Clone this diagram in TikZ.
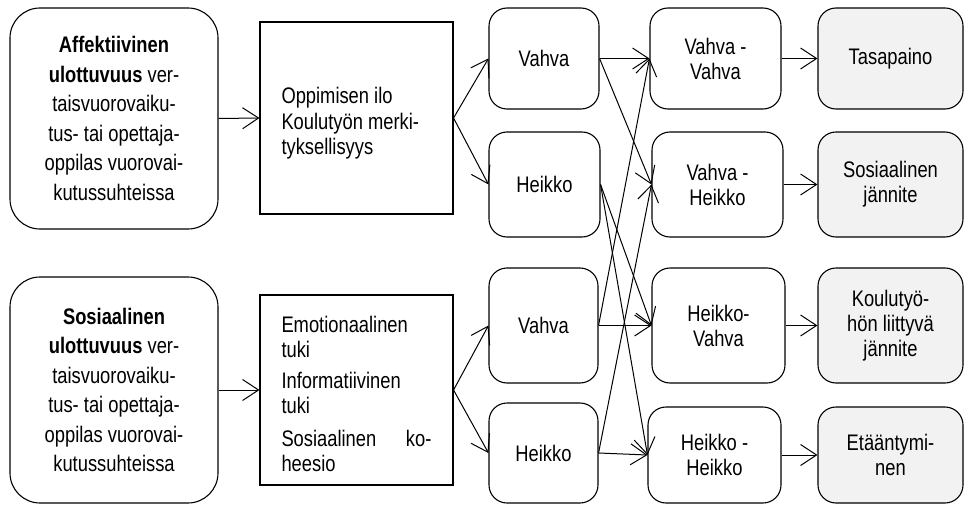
\documentclass[tikz,border=0pt]{standalone}
\usepackage{fontspec}
\setmainfont[FakeStretch=0.815]{Liberation Sans}
\usetikzlibrary{arrows.meta}

% a left-aligned text block, moved down by #1 without changing its size
\newcommand{\shiftedlist}[3]{%
  \raisebox{-#1}[\height][\depth]{\parbox{#2}{\raggedright #3}}}

\begin{document}
\begin{tikzpicture}[x=1pt,y=-1pt,
  base/.style={draw, line width=1.1pt, inner sep=0pt,
    font=\fontsize{22.5}{25}\selectfont},
  dimbox/.style={base, rounded corners=30pt, align=flush center,
    font=\fontsize{22.5}{29.5}\selectfont},
  listbox/.style={base, minimum width=193pt},
  levelbox/.style={base, rounded corners=18pt, align=flush center},
  outbox/.style={levelbox, fill=gray!10},
  arr/.style={line width=1pt, -{Straight Barb[length=16pt,width=21pt,line width=1pt]}}
]
\useasboundingbox (0,0) rectangle (968,505);

% dimensions
\node[dimbox, minimum width=208pt, minimum height=221pt] (aff) at (114,118.5)
  {\textbf{Affektiivinen}\\ \textbf{ulottuvuus} ver-\\taisvuorovaiku-\\tus- tai opettaja-\\oppilas vuorovai-\\kutussuhteissa};
\node[dimbox, minimum width=208pt, minimum height=226pt] (sos) at (114,390)
  {\textbf{Sosiaalinen}\\ \textbf{ulottuvuus} ver-\\taisvuorovaiku-\\tus- tai opettaja-\\oppilas vuorovai-\\kutussuhteissa};

% contents
\node[listbox, minimum height=192pt] (cnt1) at (356.5,118)
  {\shiftedlist{5pt}{150pt}{Oppimisen ilo\\[1pt]Koulutyön merki-\\tyksellisyys}};
\node[listbox, minimum height=190pt] (cnt2) at (356.5,390)
  {\shiftedlist{4pt}{150pt}{Emotionaalinen\\tuki\\[6pt]Informatiivinen\\tuki\\[8pt]Sosiaalinen\hskip 0pt plus 1fill ko-\\heesio}};

% levels
\node[levelbox, minimum width=110pt, minimum height=101pt] (v1) at (544,58.5) {Vahva};
\node[levelbox, minimum width=111pt, minimum height=105pt] (h1) at (544.5,184.5) {Heikko};
\node[levelbox, minimum width=109pt, minimum height=115pt] (v2) at (543.5,325.5) {Vahva};
\node[levelbox, minimum width=109pt, minimum height=100pt] (h2) at (543.5,453) {Heikko};

% combinations
\node[levelbox, minimum width=131pt, minimum height=101pt] (vv) at (715.5,58.5) {Vahva -\\Vahva};
\node[levelbox, minimum width=131pt, minimum height=105pt] (vh) at (717.5,184.5) {Vahva -\\Heikko};
\node[levelbox, minimum width=133pt, minimum height=115pt] (hv) at (718.5,325.5) {Heikko-\\Vahva};
\node[levelbox, minimum width=133pt, minimum height=96pt] (hh) at (714.5,455) {Heikko -\\Heikko};

% outcomes
\node[outbox, minimum width=145pt, minimum height=101pt] (tas) at (890.5,58.5) {Tasapaino};
\node[outbox, minimum width=145pt, minimum height=105pt] (sj) at (890.5,184.5) {Sosiaalinen\\jännite};
\node[outbox, minimum width=145pt, minimum height=115pt] (kj) at (890.5,325.5) {Koulutyö-\\hön liittyvä\\jännite};
\node[outbox, minimum width=145pt, minimum height=96pt] (et) at (890.5,455) {Etääntymi-\\nen};

% connectors
\draw[arr] (aff.east) -- (cnt1.west);
\draw[arr] (sos.east) -- (cnt2.west);
\draw[arr] (cnt1.east) -- (v1.west);
\draw[arr] (cnt1.east) -- (h1.west);
\draw[arr] (cnt2.east) -- (v2.west);
\draw[arr] (cnt2.east) -- (h2.west);
\draw[arr] (v1.east) -- (vv.west);
\draw[arr] (v1.east) -- (vh.west);
\draw[arr] (h1.east) -- (hv.west);
\draw[arr] (h1.east) -- (hh.west);
\draw[arr] (v2.east) -- (vv.west);
\draw[arr] (v2.east) -- (hv.west);
\draw[arr] (h2.east) -- (vh.west);
\draw[arr] (h2.east) -- (hh.west);
\draw[arr] (vv.east) -- (tas.west);
\draw[arr] (vh.east) -- (sj.west);
\draw[arr] (hv.east) -- (kj.west);
\draw[arr] (hh.east) -- (et.west);
\end{tikzpicture}
\end{document}
